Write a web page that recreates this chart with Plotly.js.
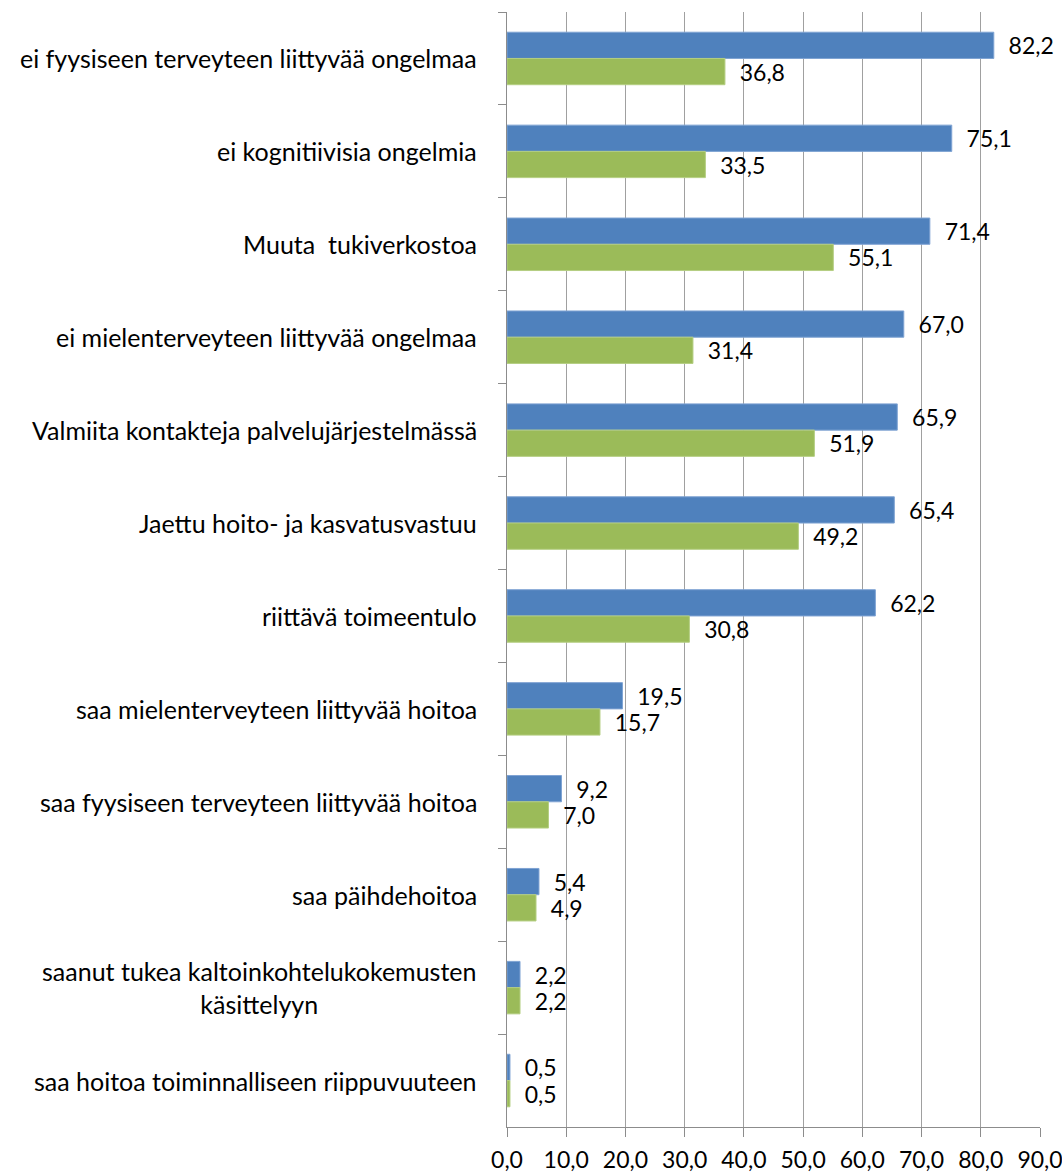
<!DOCTYPE html>
<html>
<head>
<meta charset="utf-8">
<script src="https://cdn.plot.ly/plotly-3.0.1.min.js"></script>
<style>html,body{margin:0;padding:0;background:#fff;}</style>
</head>
<body>
<div id="chart" style="width:1062px;height:1174px;"></div>
<script>
const categories = [
  "ei fyysiseen terveyteen liittyvää ongelmaa",
  "ei kognitiivisia ongelmia",
  "Muuta  tukiverkostoa",
  "ei mielenterveyteen liittyvää ongelmaa",
  "Valmiita kontakteja palvelujärjestelmässä",
  "Jaettu hoito- ja kasvatusvastuu",
  "riittävä toimeentulo",
  "saa mielenterveyteen liittyvää hoitoa",
  "saa fyysiseen terveyteen liittyvää hoitoa",
  "saa päihdehoitoa",
  "saanut tukea kaltoinkohtelukokemusten<br>käsittelyyn",
  "saa hoitoa toiminnalliseen riippuvuuteen"
];
const seriesBlue = [82.2, 75.1, 71.4, 67.0, 65.9, 65.4, 62.2, 19.5, 9.2, 5.4, 2.2, 0.5];
const seriesGreen = [36.8, 33.5, 55.1, 31.4, 51.9, 49.2, 30.8, 15.7, 7.0, 4.9, 2.2, 0.5];
const xTickValues = [0, 10, 20, 30, 40, 50, 60, 70, 80, 90];

const FONT = "Lato, 'Open Sans', sans-serif";

const traces = [
  {
    type: "bar", orientation: "h", name: "Sarja 1",
    y: categories, x: seriesBlue,
    marker: {color: "#4F81BD", line: {color: "#7FA3D3", width: 1}},
    texttemplate: "\u00a0\u00a0%{x:.1f}", textposition: "outside",
    constraintext: "none", cliponaxis: false,
    textfont: {family: FONT, size: 23, color: "#000"},
    hoverinfo: "x+y"
  },
  {
    type: "bar", orientation: "h", name: "Sarja 2",
    y: categories, x: seriesGreen,
    marker: {color: "#9BBB59", line: {color: "#B4CE82", width: 1}},
    texttemplate: "\u00a0\u00a0%{x:.1f}", textposition: "outside",
    constraintext: "none", cliponaxis: false,
    textfont: {family: FONT, size: 23, color: "#000"},
    hoverinfo: "x+y"
  }
];

const annotations = categories.map(c => ({
  xref: "paper", yref: "y", x: 0, y: c,
  xanchor: "right", yanchor: "middle", xshift: -28,
  align: "center", showarrow: false, text: c,
  font: {family: FONT, size: 25, color: "#000"}
}));

const layout = {
  width: 1062, height: 1174,
  margin: {l: 507, r: 22, t: 12, b: 47},
  paper_bgcolor: "#fff", plot_bgcolor: "#fff",
  separators: ", ",
  barmode: "group", bargap: 0.435, bargroupgap: 0,
  showlegend: false,
  font: {family: FONT, size: 23, color: "#000"},
  xaxis: {
    range: [0, 90], tickvals: xTickValues, tickformat: ".1f",
    showgrid: true, gridcolor: "#A0A0A0", gridwidth: 1,
    zeroline: false, showline: true, linecolor: "#8C8C8C", linewidth: 1,
    ticks: "outside", ticklen: 9, tickcolor: "#8C8C8C",
    tickfont: {family: FONT, size: 23, color: "#000"},
    ticklabelstandoff: 3, ticklabeloverflow: "allow", fixedrange: true
  },
  yaxis: {
    type: "category", autorange: "reversed",
    showticklabels: false,
    showline: true, linecolor: "#8C8C8C", linewidth: 1,
    ticks: "outside", ticklen: 8, tickcolor: "#8C8C8C", tickson: "boundaries",
    showgrid: false, zeroline: false, fixedrange: true
  },
  annotations: annotations
};

Plotly.newPlot("chart", traces, layout, {displayModeBar: false, staticPlot: true});
</script>
</body>
</html>
